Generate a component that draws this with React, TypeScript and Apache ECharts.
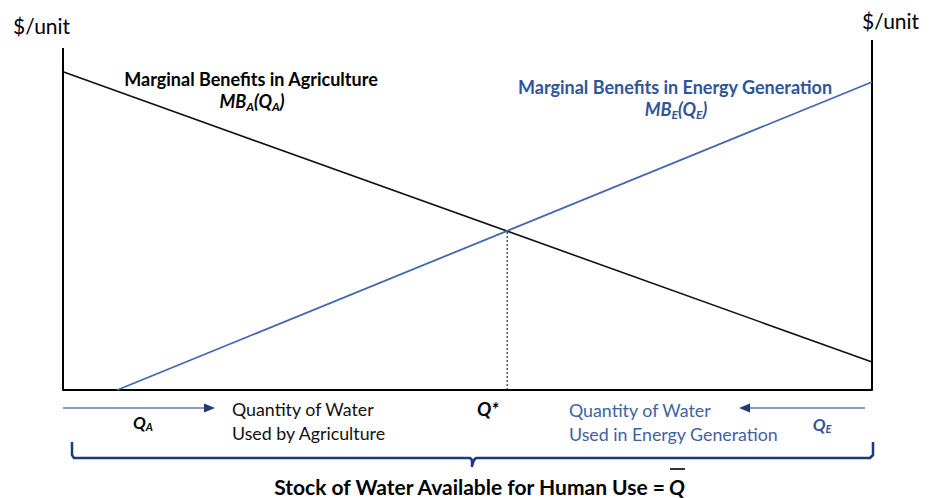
import React, { useEffect, useRef } from "react";
import * as echarts from "echarts";

// Conceptual diagram values (axis units 0..100)
const mbAgriculture: [number, number][] = [[0, 90.9], [100, 8.0]];
const mbEnergy: [number, number][] = [[6.7, 0], [100, 88.0]];
const qStar = 54.9;
const priceStar = 45.4;
const leftAxisLine: [number, number][] = [[0, 0], [0, 97.7]];
const rightAxisLine: [number, number][] = [[100, 0], [100, 100]];

const FONT = "Lato, 'Open Sans', sans-serif";
const BLACK = "#000000";
const BLUE_LINE = "#4468ad";
const BLUE_TEXT = "#2f5597";
const BLUE_LIGHT = "#3e62a3";
const NAVY = "#1f3a78";

export default function App() {
  const ref = useRef<HTMLDivElement>(null);
  useEffect(() => {
    if (!ref.current) return;
    const chart = echarts.init(ref.current, undefined, { renderer: "svg" });
    const lineSeries = (data: [number, number][], color: string, width: number, type: any = "solid") => ({
      type: "line",
      data,
      symbol: "none",
      silent: true,
      clip: false,
      lineStyle: { color, width, type },
    });
    const sub = { fontSize: 12, fontWeight: "bold", fontStyle: "italic", verticalAlign: "bottom", lineHeight: 14, fontFamily: FONT };
    const option: any = {
      animation: false,
      grid: { left: 63, right: 58, top: 40, bottom: 108 },
      xAxis: {
        type: "value", min: 0, max: 100,
        axisLine: { show: true, onZero: false, lineStyle: { color: BLACK, width: 2 } },
        axisTick: { show: false }, axisLabel: { show: false }, splitLine: { show: false },
      },
      yAxis: {
        type: "value", min: 0, max: 100,
        axisLine: { show: false }, axisTick: { show: false }, axisLabel: { show: false }, splitLine: { show: false },
      },
      series: [
        lineSeries(leftAxisLine, BLACK, 2),
        lineSeries(rightAxisLine, BLACK, 2),
        lineSeries(mbAgriculture, "#111111", 1.6),
        lineSeries(mbEnergy, BLUE_LINE, 1.8),
        lineSeries([[qStar, 0], [qStar, priceStar]], BLACK, 1, [2, 2]),
      ],
      graphic: [
        { type: "text", x: 13, y: 25, style: { text: "$/unit", fontSize: 21, fontFamily: FONT, fill: BLACK, verticalAlign: "middle" } },
        { type: "text", x: 862, y: 20, style: { text: "$/unit", fontSize: 21, fontFamily: FONT, fill: BLACK, verticalAlign: "middle" } },
        { type: "text", x: 251, y: 79, style: { text: "Marginal Benefits in Agriculture", fontSize: 18, fontWeight: "bold", fontFamily: FONT, fill: BLACK, align: "center", verticalAlign: "middle" } },
        {
          type: "text", x: 252, y: 101,
          style: {
            text: "{m|MB}{s|A}{m|(Q}{s|A}{m|)}", align: "center", verticalAlign: "middle", fill: BLACK,
            rich: { m: { fontSize: 18, fontWeight: "bold", fontStyle: "italic", lineHeight: 22, fontFamily: FONT }, s: sub },
          },
        },
        { type: "text", x: 675, y: 87, style: { text: "Marginal Benefits in Energy Generation", fontSize: 18, fontWeight: "bold", fontFamily: FONT, fill: BLUE_TEXT, align: "center", verticalAlign: "middle" } },
        {
          type: "text", x: 676, y: 109,
          style: {
            text: "{m|MB}{s|E}{m|(Q}{s|E}{m|)}", align: "center", verticalAlign: "middle", fill: BLUE_TEXT,
            rich: { m: { fontSize: 18, fontWeight: "bold", fontStyle: "italic", lineHeight: 22, fontFamily: FONT }, s: sub },
          },
        },
        // left arrow (Q_A)
        { type: "line", shape: { x1: 63, y1: 408, x2: 207, y2: 408 }, style: { stroke: NAVY, lineWidth: 1.2 } },
        { type: "polygon", shape: { points: [[215, 408], [204, 403.5], [204, 412.5]] }, style: { fill: NAVY } },
        {
          type: "text", x: 143, y: 422,
          style: {
            text: "{m|Q}{s|A}", align: "center", verticalAlign: "middle", fill: BLACK,
            rich: { m: { fontSize: 17, fontWeight: "bold", fontStyle: "italic", lineHeight: 20, fontFamily: FONT }, s: { ...sub, fontSize: 11 } },
          },
        },
        { type: "text", x: 232, y: 409, style: { text: "Quantity of Water", fontSize: 17.8, fontFamily: FONT, fill: "#111111", verticalAlign: "middle" } },
        { type: "text", x: 232, y: 433, style: { text: "Used by Agriculture", fontSize: 17.8, fontFamily: FONT, fill: "#111111", verticalAlign: "middle" } },
        { type: "text", x: 477, y: 408, style: { text: "Q*", fontSize: 19, fontWeight: "bold", fontStyle: "italic", fontFamily: FONT, fill: BLACK, verticalAlign: "middle" } },
        { type: "text", x: 569, y: 410, style: { text: "Quantity of Water", fontSize: 17.8, fontFamily: FONT, fill: BLUE_LIGHT, verticalAlign: "middle" } },
        { type: "text", x: 569, y: 434, style: { text: "Used in Energy Generation", fontSize: 17.8, fontFamily: FONT, fill: BLUE_LIGHT, verticalAlign: "middle" } },
        // right arrow (Q_E)
        { type: "line", shape: { x1: 748, y1: 408, x2: 865, y2: 408 }, style: { stroke: NAVY, lineWidth: 1.2 } },
        { type: "polygon", shape: { points: [[739, 408], [750, 403.5], [750, 412.5]] }, style: { fill: NAVY } },
        {
          type: "text", x: 822, y: 424,
          style: {
            text: "{m|Q}{s|E}", align: "center", verticalAlign: "middle", fill: BLUE_TEXT,
            rich: { m: { fontSize: 17, fontWeight: "bold", fontStyle: "italic", lineHeight: 20, fontFamily: FONT }, s: { ...sub, fontSize: 11 } },
          },
        },
        // brace
        {
          type: "polyline",
          shape: { points: [[72, 442], [72, 455], [74, 458], [470, 458], [472, 460], [472, 466], [474, 460], [476, 458], [870, 458], [873, 455], [873, 442]] },
          style: { stroke: NAVY, lineWidth: 2.5, fill: "none", lineJoin: "round" },
        },
        { type: "text", x: 665, y: 486, style: { text: "Stock of Water Available for Human Use =", fontSize: 21, fontWeight: "bold", fontFamily: FONT, fill: BLACK, align: "right", verticalAlign: "middle" } },
        { type: "text", x: 669, y: 486, style: { text: "Q", fontSize: 21, fontWeight: "bold", fontStyle: "italic", fontFamily: FONT, fill: BLACK, align: "left", verticalAlign: "middle" } },
        { type: "line", shape: { x1: 670, y1: 469, x2: 685, y2: 469 }, style: { stroke: BLACK, lineWidth: 1.6 } },
      ],
    };
    chart.setOption(option);
    return () => chart.dispose();
  }, []);
  return (
    <div style={{ position: "fixed", left: 0, top: 0, width: 930, height: 498, background: "#fff" }}>
      <div ref={ref} style={{ width: 930, height: 498 }} />
    </div>
  );
}
